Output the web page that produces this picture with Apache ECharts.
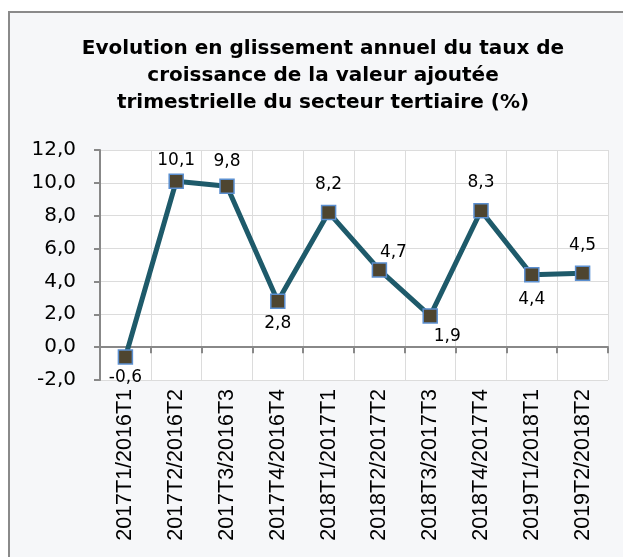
<!DOCTYPE html>
<html><head><meta charset="utf-8">
<script src="https://cdn.jsdelivr.net/npm/echarts@6/dist/echarts.min.js"></script>
<style>html,body{margin:0;padding:0;background:#fff}#c{width:623px;height:557px}</style>
</head><body><div id="c"></div>
<script>
const titleText = 'Evolution en glissement annuel du taux de\ncroissance de la valeur ajoutée\ntrimestrielle du secteur tertiaire (%)';
const categories = ['2017T1/2016T1','2017T2/2016T2','2017T3/2016T3','2017T4/2016T4','2018T1/2017T1','2018T2/2017T2','2018T3/2017T3','2018T4/2017T4','2019T1/2018T1','2019T2/2018T2'];
const values = [-0.6, 10.1, 9.8, 2.8, 8.2, 4.7, 1.9, 8.3, 4.4, 4.5];
const yMin = -2, yMax = 12, yStep = 2;

// label placement (styling only)
const labelPositions = ['bottom','top','top','bottom','top','top','bottom','top','bottom','top'];
const labelOffsets = [[0,0],[0,0],[0,-4],[0,2],[0,-8],[14,3],[17,0],[0,-8],[0,4],[0,-7]];

const fmt = v => v.toFixed(1).replace('.', ',');
const chart = echarts.init(document.getElementById('c'));
chart.setOption({
  animation: false,
  backgroundColor: '#ffffff',
  graphic: [{type:'rect', z:-10, shape:{x:9, y:12, width:700, height:700}, style:{fill:'#f6f7f9', stroke:'#8a8a8a', lineWidth:2}}],
  title: {text: titleText, left: 318, textAlign: 'center', top: 30,
    textStyle: {fontFamily: 'DejaVu Sans', fontWeight: 'bold', fontSize: 20, lineHeight: 27, color: '#000'}},
  grid: {left: 100, right: 15, top: 150, bottom: 177, show: true, backgroundColor: '#ffffff', borderWidth: 0},
  xAxis: [{
    type: 'category', data: categories, boundaryGap: true,
    axisLine: {onZero: true, lineStyle: {color: '#888', width: 2}},
    axisTick: {show: true, interval: 0, length: 6, lineStyle: {color: '#888', width: 2}},
    axisLabel: {show: false, interval: 0},
    splitLine: {show: true, interval: 0, lineStyle: {color: '#dcdcdc', width: 1}}
  }, {
    type: 'category', data: categories, position: 'bottom', boundaryGap: true,
    axisLine: {show: false, onZero: false}, axisTick: {show: false},
    axisLabel: {rotate: 90, interval: 0, margin: 9, fontFamily: 'Liberation Sans', fontSize: 21.5, color: '#000'}
  }],
  yAxis: {
    type: 'value', min: yMin, max: yMax, interval: yStep,
    axisLine: {show: true, lineStyle: {color: '#888', width: 2}},
    axisTick: {show: true, length: 6, lineStyle: {color: '#888', width: 2}},
    axisLabel: {formatter: fmt, margin: 24, fontFamily: 'DejaVu Sans', fontSize: 20, color: '#000'},
    splitLine: {show: true, lineStyle: {color: '#dcdcdc', width: 1}}
  },
  series: [{
    type: 'line', xAxisIndex: 0,
    data: values.map((v, i) => ({value: v, label: {position: labelPositions[i], offset: labelOffsets[i]}})),
    symbol: 'rect', symbolSize: 14,
    lineStyle: {color: '#1e5a6a', width: 5},
    itemStyle: {color: '#4e4530', borderColor: '#5b8fd0', borderWidth: 1.5},
    label: {show: true, formatter: p => fmt(p.value), distance: 4, fontFamily: 'DejaVu Sans', fontSize: 17, color: '#000'}
  }]
});
</script></body></html>
